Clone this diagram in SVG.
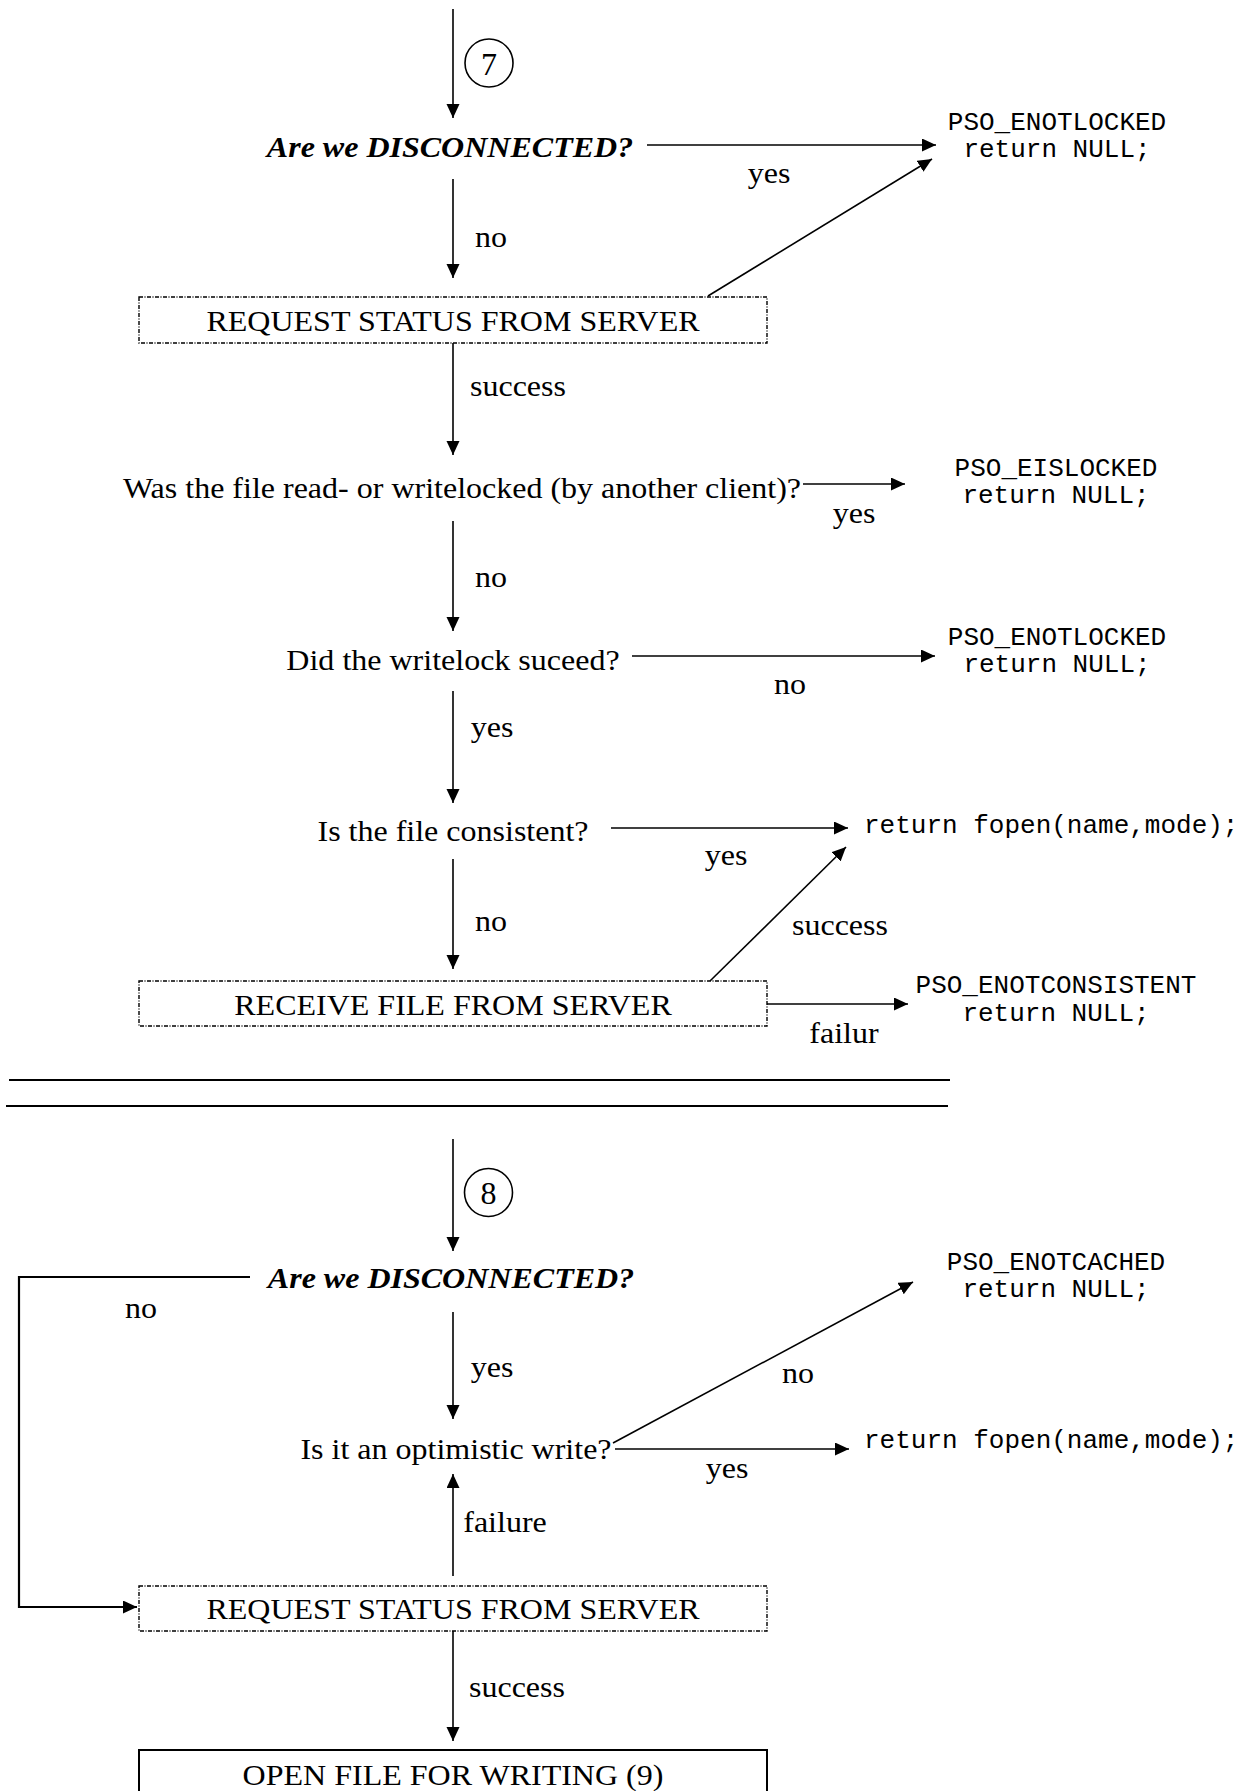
<svg xmlns="http://www.w3.org/2000/svg" width="1257" height="1791" viewBox="0 0 1257 1791">
<style>
.t{font-family:"Liberation Serif","Times New Roman",serif;font-size:30px;fill:#000;text-anchor:middle}
.bi{font-weight:bold;font-style:italic}
.m{font-family:"Liberation Mono","Courier New",monospace;font-size:26px;fill:#000;text-anchor:middle}
.ml{font-family:"Liberation Mono","Courier New",monospace;font-size:26px;fill:#000;text-anchor:start}
.dash{fill:#fff;stroke:#000;stroke-width:1.4;stroke-dasharray:4 1.5 1 1.5}
.solid{fill:#fff;stroke:#000;stroke-width:2}
.c{fill:none;stroke:#000;stroke-width:1.6}
.cw{fill:none;stroke:#000;stroke-width:2.2}
.circ{fill:#fff;stroke:#000;stroke-width:1.6}
.d{font-family:"Liberation Serif","Times New Roman",serif;font-size:32px;fill:#000;text-anchor:middle}
</style>
<defs>
<marker id="ah" markerUnits="userSpaceOnUse" markerWidth="15" markerHeight="14" refX="14" refY="6.5" orient="auto">
<path d="M0,0 L14,6.5 L0,13 z" fill="#000"/>
</marker>
</defs>
<rect width="1257" height="1791" fill="#fff"/>

<g id="connectors">
<path class="c" d="M453,9 V118" marker-end="url(#ah)"/>
<path class="c" d="M647,145 H936" marker-end="url(#ah)"/>
<path class="c" d="M453,179 V278" marker-end="url(#ah)"/>
<path class="c" d="M708,296 L932,159" marker-end="url(#ah)"/>
<path class="c" d="M453,343 V455" marker-end="url(#ah)"/>
<path class="c" d="M803,484 H905" marker-end="url(#ah)"/>
<path class="c" d="M453,521 V631" marker-end="url(#ah)"/>
<path class="c" d="M632,656 H935" marker-end="url(#ah)"/>
<path class="c" d="M453,691 V803" marker-end="url(#ah)"/>
<path class="c" d="M611,828 H848" marker-end="url(#ah)"/>
<path class="c" d="M453,859 V969" marker-end="url(#ah)"/>
<path class="c" d="M710,981 L846,847" marker-end="url(#ah)"/>
<path class="c" d="M767,1004 H908" marker-end="url(#ah)"/>
<path class="c" d="M453,1139 V1251" marker-end="url(#ah)"/>
<path class="cw" d="M250,1277 H19 V1607 H137" marker-end="url(#ah)"/>
<path class="c" d="M453,1312 V1419" marker-end="url(#ah)"/>
<path class="c" d="M613,1443 L913,1282" marker-end="url(#ah)"/>
<path class="c" d="M615,1449 H849" marker-end="url(#ah)"/>
<path class="c" d="M453,1576 V1474" marker-end="url(#ah)"/>
<path class="c" d="M453,1631 V1741" marker-end="url(#ah)"/>
</g>

<g id="labels">
<text class="t" transform="translate(769 183) scale(1.067 1)">yes</text>
<text class="t" transform="translate(491 247) scale(1.067 1)">no</text>
<text class="t" transform="translate(518 396) scale(1.067 1)">success</text>
<text class="t" transform="translate(854 523) scale(1.067 1)">yes</text>
<text class="t" transform="translate(491 587) scale(1.067 1)">no</text>
<text class="t" transform="translate(790 694) scale(1.067 1)">no</text>
<text class="t" transform="translate(492 737) scale(1.067 1)">yes</text>
<text class="t" transform="translate(726 865) scale(1.067 1)">yes</text>
<text class="t" transform="translate(491 931) scale(1.067 1)">no</text>
<text class="t" transform="translate(840 935) scale(1.067 1)">success</text>
<text class="t" transform="translate(844 1043) scale(1.067 1)">failur</text>
<text class="t" transform="translate(141 1318) scale(1.067 1)">no</text>
<text class="t" transform="translate(492 1377) scale(1.067 1)">yes</text>
<text class="t" transform="translate(798 1383) scale(1.067 1)">no</text>
<text class="t" transform="translate(727 1478) scale(1.067 1)">yes</text>
<text class="t" transform="translate(505 1532) scale(1.067 1)">failure</text>
<text class="t" transform="translate(517 1697) scale(1.067 1)">success</text>
</g>

<g id="separator">
<path class="cw" d="M9,1080 H950"/>
<path class="cw" d="M6,1106 H948"/>
</g>

<g id="step7">
<circle class="circ" cx="489" cy="63" r="24"/>
<text class="d" x="489" y="75">7</text>
</g>
<g id="q-disconnected-1">
<text class="t bi" transform="translate(450 157) scale(1.067 1)">Are we DISCONNECTED?</text>
</g>
<g id="err-notlocked-1">
<text class="m" x="1057" y="130">PSO_ENOTLOCKED</text>
<text class="m" x="1057" y="157">return NULL;</text>
</g>
<g id="request-status-1">
<rect class="dash" x="139" y="297" width="628" height="46"/>
<text class="t" transform="translate(453 331) scale(1.067 1)">REQUEST STATUS FROM SERVER</text>
</g>
<g id="q-locked">
<text class="t" transform="translate(462 498) scale(1.067 1)">Was the file read- or writelocked (by another client)?</text>
</g>
<g id="err-islocked">
<text class="m" x="1056" y="476">PSO_EISLOCKED</text>
<text class="m" x="1056" y="503">return NULL;</text>
</g>
<g id="q-writelock">
<text class="t" transform="translate(453 670) scale(1.067 1)">Did the writelock suceed?</text>
</g>
<g id="err-notlocked-2">
<text class="m" x="1057" y="645">PSO_ENOTLOCKED</text>
<text class="m" x="1057" y="672">return NULL;</text>
</g>
<g id="q-consistent">
<text class="t" transform="translate(453 841) scale(1.067 1)">Is the file consistent?</text>
</g>
<g id="ret-fopen-1">
<text class="ml" x="864" y="833">return fopen(name,mode);</text>
</g>
<g id="receive-file">
<rect class="dash" x="139" y="981" width="628" height="45"/>
<text class="t" transform="translate(453 1015) scale(1.067 1)">RECEIVE FILE FROM SERVER</text>
</g>
<g id="err-notconsistent">
<text class="m" x="1056" y="993">PSO_ENOTCONSISTENT</text>
<text class="m" x="1056" y="1021">return NULL;</text>
</g>

<g id="step8">
<circle class="circ" cx="488.5" cy="1192.5" r="24"/>
<text class="d" x="488.5" y="1204">8</text>
</g>
<g id="q-disconnected-2">
<text class="t bi" transform="translate(451 1288) scale(1.067 1)">Are we DISCONNECTED?</text>
</g>
<g id="err-notcached">
<text class="m" x="1056" y="1270">PSO_ENOTCACHED</text>
<text class="m" x="1056" y="1297">return NULL;</text>
</g>
<g id="q-optimistic">
<text class="t" transform="translate(456 1459) scale(1.067 1)">Is it an optimistic write?</text>
</g>
<g id="ret-fopen-2">
<text class="ml" x="864" y="1448">return fopen(name,mode);</text>
</g>
<g id="request-status-2">
<rect class="dash" x="139" y="1586" width="628" height="45"/>
<text class="t" transform="translate(453 1619) scale(1.067 1)">REQUEST STATUS FROM SERVER</text>
</g>
<g id="open-file">
<rect class="solid" x="139" y="1750" width="628" height="60"/>
<text class="t" transform="translate(453 1785) scale(1.067 1)">OPEN FILE FOR WRITING (9)</text>
</g>
</svg>
